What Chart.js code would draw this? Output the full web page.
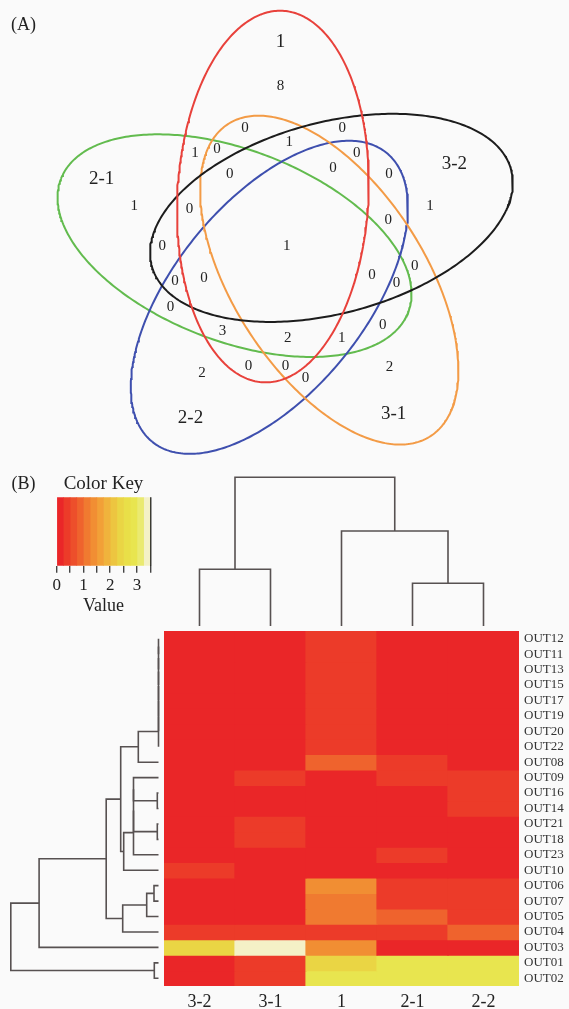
<!DOCTYPE html>
<html>
<head>
<meta charset="utf-8">
<title>Venn diagram and OTU heatmap</title>
<script src="https://cdn.jsdelivr.net/npm/chart.js@4.4.1/dist/chart.umd.min.js"></script>
<style>
  html, body { margin: 0; padding: 0; background: #fafafa; }
  #page { position: relative; width: 569px; height: 1009px; overflow: hidden; background: #fafafa; }
  .box { position: absolute; }
</style>
</head>
<body>
<div id="page">
  <div class="box" style="left:0;top:0;width:569px;height:470px"><canvas id="venn"></canvas></div>
  <div class="box" style="left:0;top:470px;width:165px;height:150px"><canvas id="key"></canvas></div>
  <div class="box" style="left:164px;top:470px;width:355px;height:161px"><canvas id="colTree"></canvas></div>
  <div class="box" style="left:0;top:631px;width:164px;height:355px"><canvas id="rowTree"></canvas></div>
  <div class="box" style="left:164px;top:631px;width:405px;height:378px"><canvas id="heat"></canvas></div>
</div>
<script>
// ---- (A) Venn data ----
const setNames = ['1', '3-2', '3-1', '2-2', '2-1'];
const setColors = ['#e8413b', '#1c1c1c', '#f39b46', '#3e4fae', '#62bb4e'];
const uniqueCounts = [8, 1, 2, 2, 1];
const overlapCounts = [0, 0, 1, 0, 1, 0, 0, 0, 0, 0, 0, 1, 0, 0, 0, 0, 0, 0, 0, 0, 3, 2, 1, 0, 0, 0];

// label placement inside the diagram (venn units = px)
const namePos = [[280.5, 41.7], [454.3, 164.3], [393.7, 414.3], [190.5, 417.7], [101.6, 179]];
const uniquePos = [[280.5, 86], [430, 205.7], [389.4, 366.7], [202.1, 372.7], [134.3, 205.7]];
const overlapPos = [
  [245, 127.7], [342.2, 127.7], [194.9, 152.7], [217, 149.3], [289.2, 141.7], [356.7, 152.7],
  [229.7, 174], [333.1, 168.3], [389, 174], [189.4, 209], [388.3, 220], [286.7, 245.7],
  [162.2, 245.7], [174.9, 281], [203.9, 277.7], [372, 275], [396.6, 283.3], [414.8, 266],
  [170.6, 306.7], [382.8, 325], [222.4, 331], [287.8, 337.7], [341.8, 337.7],
  [248.6, 366], [285.6, 366], [305.5, 377.7]
];

// ---- (B) heatmap data ----
const sampleCols = ['3-2', '3-1', '1', '2-1', '2-2'];
const otuRows = ['OUT12', 'OUT11', 'OUT13', 'OUT15', 'OUT17', 'OUT19', 'OUT20', 'OUT22', 'OUT08',
  'OUT09', 'OUT16', 'OUT14', 'OUT21', 'OUT18', 'OUT23', 'OUT10', 'OUT06', 'OUT07', 'OUT05',
  'OUT04', 'OUT03', 'OUT01', 'OUT02'];
const otuValues = [
  [0, 0, 0.3, 0, 0],
  [0, 0, 0.3, 0, 0],
  [0, 0, 0.3, 0, 0],
  [0, 0, 0.3, 0, 0],
  [0, 0, 0.3, 0, 0],
  [0, 0, 0.3, 0, 0],
  [0, 0, 0.3, 0, 0],
  [0, 0, 0.3, 0, 0],
  [0, 0, 0.8, 0.3, 0],
  [0, 0.3, 0, 0.3, 0.3],
  [0, 0, 0, 0, 0.3],
  [0, 0, 0, 0, 0.3],
  [0, 0.3, 0, 0, 0],
  [0, 0.3, 0, 0, 0],
  [0, 0, 0, 0.3, 0],
  [0.3, 0, 0, 0, 0],
  [0, 0, 1.3, 0.3, 0.3],
  [0, 0, 1.1, 0.3, 0.3],
  [0, 0, 1.1, 0.8, 0.3],
  [0.3, 0.3, 0.3, 0.3, 0.8],
  [2.4, 3.4, 1.3, 0, 0],
  [0, 0.3, 2.4, 2.9, 2.9],
  [0, 0.3, 2.9, 2.9, 2.9]
];

// dendrogram merges: [left, right, height]; 'mK' refers to merge K
const rowMerges = [
  ['OUT12', 'OUT11', 0], ['m0', 'OUT13', 0], ['m1', 'OUT15', 0], ['m2', 'OUT17', 0],
  ['m3', 'OUT19', 0], ['m4', 'OUT20', 0], ['m5', 'OUT22', 0], ['m6', 'OUT08', 20.2],
  ['OUT16', 'OUT14', 1.2], ['OUT21', 'OUT18', 1.2], ['OUT09', 'm8', 25], ['m10', 'm9', 25],
  ['m11', 'OUT23', 25], ['m12', 'OUT10', 34.8], ['m7', 'm13', 37.8],
  ['OUT06', 'OUT07', 4.5], ['m15', 'OUT05', 11.8], ['m16', 'OUT04', 35.8],
  ['m14', 'm17', 52.3], ['m18', 'OUT03', 119.4], ['OUT01', 'OUT02', 4.2], ['m19', 'm20', 147.7]
];
const colMerges = [
  ['3-2', '3-1', 56.7], ['2-1', '2-2', 42.7], ['1', 'm1', 95], ['m0', 'm2', 148.7]
];

// color key bins
const keyBreaks = [0, 0.25, 0.5, 0.75, 1, 1.25, 1.5, 1.75, 2, 2.25, 2.5, 2.75, 3, 3.25, 3.5];
const keyColors = ['#ea2628', '#ec3b29', '#ed4f2b', '#ef632d', '#f07a30', '#f18e33', '#f2a037',
  '#f0b33c', '#edc540', '#ead544', '#e9df48', '#e8e54f', '#eaea70', '#f4f1c6'];

const SERIF = '"Liberation Serif", "Times New Roman", serif';
const TEXT = '#222';
const TREE = '#575151';
Chart.defaults.font.family = SERIF;
Chart.defaults.animation = false;
Chart.defaults.responsive = true;
Chart.defaults.maintainAspectRatio = false;
Chart.defaults.plugins.legend.display = false;
Chart.defaults.plugins.tooltip.enabled = false;

function colorFor(v) {
  for (let i = 0; i < keyColors.length; i++) {
    if (v < keyBreaks[i + 1]) return keyColors[i];
  }
  return keyColors[keyColors.length - 1];
}

// ---- Venn ellipses (five congruent ellipses, rotated by 72 deg) ----
const VENN = { cx: 287.5, cy: 247.5, r: 53, a: 186, b: 95.5, start: -106, tilt: 19 };

function ellipsePoints(i) {
  const phi = (VENN.start + 72 * i) * Math.PI / 180;
  const th = phi + VENN.tilt * Math.PI / 180;
  const cx = VENN.cx + VENN.r * Math.cos(phi);
  const cy = VENN.cy + VENN.r * Math.sin(phi);
  const pts = [];
  for (let k = 0; k <= 360; k++) {
    const t = k * Math.PI / 180;
    pts.push({
      x: cx + VENN.a * Math.cos(t) * Math.cos(th) - VENN.b * Math.sin(t) * Math.sin(th),
      y: cy + VENN.a * Math.cos(t) * Math.sin(th) + VENN.b * Math.sin(t) * Math.cos(th)
    });
  }
  return pts;
}

const vennText = {
  id: 'vennText',
  afterDatasetsDraw(chart) {
    const { ctx, scales: { x, y } } = chart;
    const put = (txt, p) => ctx.fillText(txt, x.getPixelForValue(p[0]), y.getPixelForValue(p[1]));
    ctx.save();
    ctx.fillStyle = TEXT;
    ctx.textAlign = 'center';
    ctx.textBaseline = 'middle';
    ctx.font = '15px ' + SERIF;
    overlapCounts.forEach((c, i) => put(String(c), overlapPos[i]));
    uniqueCounts.forEach((c, i) => put(String(c), uniquePos[i]));
    ctx.font = '19px ' + SERIF;
    setNames.forEach((n, i) => put(n, namePos[i]));
    ctx.font = '18px ' + SERIF;
    put('(A)', [23.6, 25]);
    ctx.restore();
  }
};

new Chart(document.getElementById('venn'), {
  type: 'scatter',
  data: {
    datasets: setNames.map((n, i) => ({
      label: n,
      data: ellipsePoints(i),
      showLine: true,
      borderColor: setColors[i],
      borderWidth: 2,
      pointRadius: 0,
      tension: 0,
      clip: false
    }))
  },
  options: {
    layout: { padding: 0 },
    scales: {
      x: { type: 'linear', min: 0, max: 569, display: false },
      y: { type: 'linear', min: 0, max: 470, reverse: true, display: false }
    }
  },
  plugins: [vennText]
});

// ---- dendrograms ----
function treeSegments(leaves, merges) {
  const pos = {}, hgt = {};
  leaves.forEach((l, i) => { pos[l] = i + 0.5; hgt[l] = 0; });
  return merges.map(([a, b, h], k) => {
    const seg = [[pos[a], hgt[a]], [pos[a], h], [pos[b], h], [pos[b], hgt[b]]];
    pos['m' + k] = (pos[a] + pos[b]) / 2;
    hgt['m' + k] = h;
    return seg;
  });
}

function treeDatasets(segs, horizontal) {
  return segs.map(seg => ({
    data: seg.map(([p, h]) => horizontal ? { x: h, y: p } : { x: p, y: h }),
    showLine: true,
    borderColor: TREE,
    borderWidth: 1.6,
    pointRadius: 0,
    tension: 0,
    clip: false
  }));
}

new Chart(document.getElementById('rowTree'), {
  type: 'scatter',
  data: { datasets: treeDatasets(treeSegments(otuRows, rowMerges), true) },
  options: {
    layout: { padding: 0 },
    scales: {
      x: { type: 'linear', min: -5.5, max: 158.5, reverse: true, display: false },
      y: { type: 'linear', min: 0, max: otuRows.length, reverse: true, display: false }
    }
  }
});

new Chart(document.getElementById('colTree'), {
  type: 'scatter',
  data: { datasets: treeDatasets(treeSegments(sampleCols, colMerges), false) },
  options: {
    layout: { padding: 0 },
    scales: {
      x: { type: 'linear', min: 0, max: sampleCols.length, display: false },
      y: { type: 'linear', min: -5, max: 156, display: false }
    }
  }
});

// ---- heatmap ----
new Chart(document.getElementById('heat'), {
  type: 'bar',
  data: {
    labels: sampleCols,
    datasets: otuRows.map((r, i) => ({
      label: r,
      data: otuValues[i].map(() => 1),
      backgroundColor: otuValues[i].map(colorFor),
      borderWidth: 0,
      inflateAmount: 0.6,
      barPercentage: 1,
      categoryPercentage: 1
    }))
  },
  options: {
    layout: { padding: 0 },
    scales: {
      x: {
        stacked: true,
        grid: { display: false, drawTicks: false, tickLength: 0 },
        border: { display: false },
        ticks: { color: TEXT, font: { size: 18 }, padding: 5, maxRotation: 0 },
        afterFit: s => { s.height = 23; s.paddingLeft = 0; s.paddingRight = 0; }
      },
      y: {
        stacked: true,
        position: 'right',
        min: 0,
        max: otuRows.length,
        reverse: true,
        grid: { display: false, drawTicks: false, tickLength: 0 },
        border: { display: false },
        afterBuildTicks: s => { s.ticks = otuRows.map((r, i) => ({ value: i + 0.5 })); },
        ticks: {
          autoSkip: false,
          color: '#333',
          font: { size: 13 },
          padding: 5,
          callback: (v, i) => otuRows[i]
        },
        afterFit: s => { s.width = 50; s.paddingTop = 0; s.paddingBottom = 0; }
      }
    }
  }
});

// ---- color key ----
const keyExtras = {
  id: 'keyExtras',
  afterDraw(chart) {
    const { ctx } = chart;
    ctx.save();
    ctx.fillStyle = TEXT;
    ctx.textAlign = 'center';
    ctx.textBaseline = 'middle';
    ctx.font = '18px ' + SERIF;
    ctx.fillText('(B)', 23.6, 14);
    ctx.restore();
  }
};

new Chart(document.getElementById('key'), {
  type: 'bar',
  data: {
    labels: [''],
    datasets: keyColors.map((c, i) => ({
      data: [[keyBreaks[i], keyBreaks[i + 1]]],
      backgroundColor: c,
      borderWidth: 0,
      grouped: false,
      barPercentage: 1,
      categoryPercentage: 1
    }))
  },
  options: {
    indexAxis: 'y',
    layout: { padding: { left: 56.7, right: 14.7, top: 0, bottom: 0 } },
    plugins: {
      title: {
        display: true,
        text: 'Color Key',
        color: TEXT,
        font: { size: 19, weight: 'normal', family: SERIF },
        padding: { top: 2.6, bottom: 1.9 }
      }
    },
    scales: {
      y: { display: false },
      x: {
        type: 'linear',
        min: 0,
        max: 3.5,
        border: { display: false },
        grid: {
          drawOnChartArea: true,
          color: c => (c.tick && c.tick.value === 3.5 ? '#111' : 'rgba(0,0,0,0)'),
          tickColor: '#444',
          tickLength: 7,
          lineWidth: 1.4
        },
        ticks: {
          stepSize: 0.5,
          autoSkip: false,
          maxRotation: 0,
          color: TEXT,
          font: { size: 17 },
          padding: 3,
          callback: v => (Number.isInteger(v) ? String(v) : '')
        },
        title: {
          display: true,
          text: 'Value',
          color: TEXT,
          font: { size: 18 },
          padding: { top: 0, bottom: 2.5 }
        },
        afterFit: s => { s.height = 54.3; }
      }
    }
  },
  plugins: [keyExtras]
});
</script>
</body>
</html>
